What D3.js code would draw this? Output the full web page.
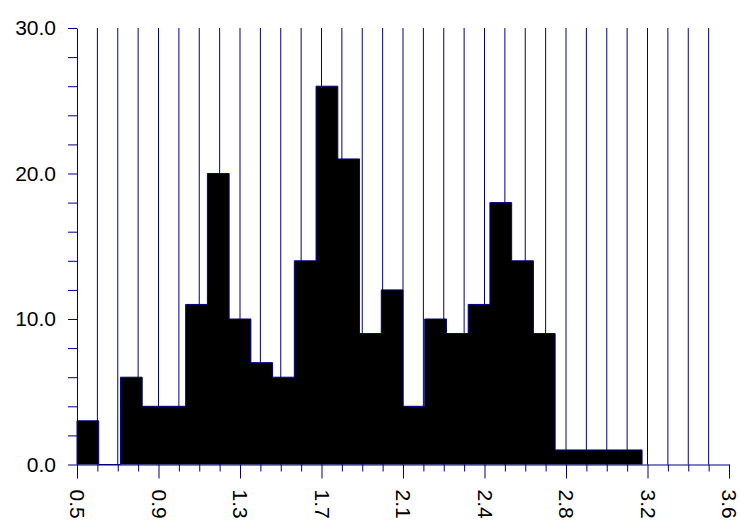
<!DOCTYPE html>
<html>
<head>
<meta charset="utf-8">
<script src="https://cdn.jsdelivr.net/npm/d3@7"></script>
<style>
  html, body { margin: 0; padding: 0; background: #fff; }
  svg { display: block; }
  text { font-family: "Liberation Sans", Arial, sans-serif; font-size: 21px; fill: #000; }
</style>
</head>
<body>
<svg id="chart" width="740" height="521"></svg>
<script>
// Histogram counts, one per bin, starting at binStart with equal widths
const binStart = 0.5;
const binWidth = 3.1 / 30;
const counts = [3, 0, 6, 4, 4, 11, 20, 10, 7, 6, 14, 26, 21, 9, 12, 4, 10, 9, 11, 18, 14, 9, 1, 1, 1, 1, 0, 0, 0, 0];

// Axis ticks and their printed labels
const xMajorTicks = [0.5, 0.8875, 1.275, 1.6625, 2.05, 2.4375, 2.825, 3.2125, 3.6];
const xTickLabels = ["0.5", "0.9", "1.3", "1.7", "2.1", "2.4", "2.8", "3.2", "3.6"];
const yMajorTicks = [0, 10, 20, 30];
const yTickLabels = ["0.0", "10.0", "20.0", "30.0"];

const axisColor = "#000080";
const fontFamily = '"Liberation Sans", Arial, sans-serif';
const svg = d3.select("#chart");

const x = d3.scaleLinear().domain([0.5, 3.6]).range([77, 729]);
const y = d3.scaleLinear().domain([0, 30]).range([464.5, 28]);

// Minor x steps: four per major interval
const xMinorStep = (xMajorTicks[1] - xMajorTicks[0]) / 4;
const xMinor = d3.range(0, 33).map(i => xMajorTicks[0] + i * xMinorStep)
  .filter(v => !xMajorTicks.some(m => Math.abs(m - v) < 1e-6));
const yMinor = d3.range(0, 31, 2).filter(v => !yMajorTicks.includes(v));

// Vertical grid lines at every x step (except the axis ends)
const gridVals = d3.range(1, 32).map(i => xMajorTicks[0] + i * xMinorStep);
svg.append("g")
  .selectAll("line")
  .data(gridVals)
  .join("line")
  .attr("x1", d => x(d)).attr("x2", d => x(d))
  .attr("y1", y(30)).attr("y2", y(0))
  .attr("stroke", axisColor)
  .attr("stroke-width", 1);

// Histogram bars as one filled step silhouette with an outline
const bins = counts.map((c, i) => ({ x0: binStart + i * binWidth, x1: binStart + (i + 1) * binWidth, n: c }));
const lastBin = bins.reduce((acc, b, i) => (b.n > 0 ? i : acc), 0);
const stepPts = [[binStart, 0]]
  .concat(bins.slice(0, lastBin + 1).map(b => [b.x0, b.n]))
  .concat([[bins[lastBin].x1, bins[lastBin].n], [bins[lastBin].x1, 0]]);
svg.append("path")
  .datum(stepPts)
  .attr("class", "bars")
  .attr("d", d3.line().x(d => x(d[0])).y(d => y(d[1])).curve(d3.curveStepAfter))
  .attr("fill", "#000")
  .attr("stroke", axisColor)
  .attr("stroke-width", 1);

// Y axis: major and minor ticks of equal length
const yAxis = d3.axisLeft(y)
  .tickValues(yMajorTicks)
  .tickFormat((d, i) => yTickLabels[i])
  .tickSizeInner(9)
  .tickSizeOuter(0)
  .tickPadding(12);
const gy = svg.append("g").attr("transform", `translate(${x(0.5)},0)`).call(yAxis);
gy.select(".domain").attr("stroke", axisColor);
gy.selectAll(".tick line").attr("stroke", axisColor);
gy.selectAll(".tick text").attr("font-size", 21).attr("fill", "#000")
  .attr("font-family", fontFamily);
svg.append("g").attr("transform", `translate(${x(0.5)},0)`)
  .call(d3.axisLeft(y).tickValues(yMinor).tickFormat("").tickSizeInner(9).tickSizeOuter(0))
  .call(g => g.select(".domain").remove())
  .call(g => g.selectAll("line").attr("stroke", axisColor));

// X axis: long major ticks, short minor ticks, rotated labels
const xAxis = d3.axisBottom(x)
  .tickValues(xMajorTicks)
  .tickFormat((d, i) => xTickLabels[i])
  .tickSizeInner(14)
  .tickSizeOuter(0)
  .tickPadding(0);
const gx = svg.append("g").attr("transform", `translate(0,${y(0)})`).call(xAxis);
gx.select(".domain").attr("stroke", axisColor);
gx.selectAll(".tick line").attr("stroke", axisColor);
gx.selectAll(".tick text")
  .attr("font-size", 21).attr("fill", "#000")
  .attr("font-family", fontFamily)
  .attr("text-anchor", "start")
  .attr("dy", null)
  .attr("dominant-baseline", "central")
  .attr("transform", "translate(0,25) rotate(90)")
  .attr("x", 0).attr("y", 0);
svg.append("g").attr("transform", `translate(0,${y(0)})`)
  .call(d3.axisBottom(x).tickValues(xMinor).tickFormat("").tickSizeInner(7).tickSizeOuter(0))
  .call(g => g.select(".domain").remove())
  .call(g => g.selectAll("line").attr("stroke", axisColor));
</script>
</body>
</html>
